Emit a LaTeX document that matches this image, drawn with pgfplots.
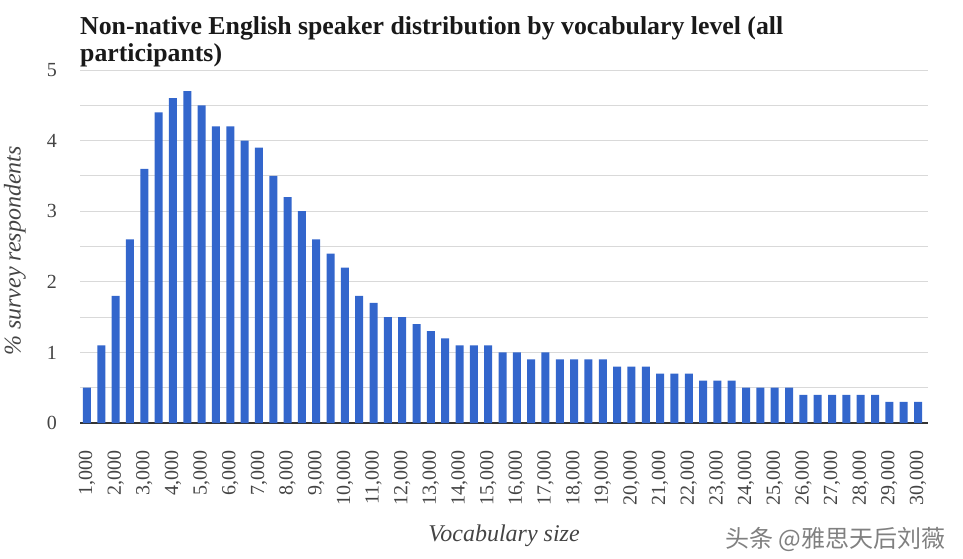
\documentclass[border=0pt]{standalone}
\usepackage{pgfplots}
\pgfplotsset{compat=1.18}
\usepackage{fontspec}
\setmainfont{Liberation Serif}
\newfontfamily\cjk{Noto Sans CJK SC}
\definecolor{barblue}{HTML}{3366CC}
\definecolor{gridgray}{HTML}{D9D9D9}
\definecolor{tickgray}{HTML}{444444}
\definecolor{axisgray}{HTML}{333333}
\begin{document}
\begin{tikzpicture}
\useasboundingbox (0pt,0pt) rectangle (963pt,558pt);
\begin{axis}[
  at={(80pt,135pt)}, anchor=south west,
  scale only axis, width=848pt, height=353pt,
  xmin=756, xmax=30349, ymin=0, ymax=5,
  axis x line*=bottom, axis y line*=left,
  x axis line style={-, draw=axisgray, line width=1.4pt},
  y axis line style={draw=none},
  major tick length=0pt, minor tick length=0pt,
  xtick={1000,2000,...,30000},
  ytick={0,1,2,3,4,5},
  minor ytick={0.5,1.5,2.5,3.5,4.5},
  ymajorgrids, yminorgrids,
  major grid style={draw=gridgray, line width=1pt},
  minor grid style={draw=gridgray, line width=1pt},
  scaled x ticks=false, scaled y ticks=false,
  /pgf/number format/.cd, 1000 sep={,}, assume math mode=true,
  /pgfplots/.cd,
  tick label style={font=\fontsize{20}{20}\selectfont, text=tickgray, inner sep=0pt},
  xticklabel style={rotate=90, anchor=east},
  xticklabel shift=27pt,
  yticklabel shift=23pt,
  xlabel={Vocabulary size},
  ylabel={\% survey respondents},
  label style={font=\itshape\fontsize{24}{24}\selectfont, text=tickgray},
  xlabel style={at={(axis description cs:0.5,0)}, anchor=center, yshift=-113pt},
  ylabel style={at={(axis description cs:-0.0767,0.487)}, anchor=center, rotate=0},
]
\addplot[ybar, bar width=8pt, fill=barblue, draw=none] coordinates {
(1000,0.5) (1500,1.1) (2000,1.8) (2500,2.6) (3000,3.6) (3500,4.4)
(4000,4.6) (4500,4.7) (5000,4.5) (5500,4.2) (6000,4.2) (6500,4.0)
(7000,3.9) (7500,3.5) (8000,3.2) (8500,3.0) (9000,2.6) (9500,2.4)
(10000,2.2) (10500,1.8) (11000,1.7) (11500,1.5) (12000,1.5) (12500,1.4)
(13000,1.3) (13500,1.2) (14000,1.1) (14500,1.1) (15000,1.1) (15500,1.0)
(16000,1.0) (16500,0.9) (17000,1.0) (17500,0.9) (18000,0.9) (18500,0.9)
(19000,0.9) (19500,0.8) (20000,0.8) (20500,0.8) (21000,0.7) (21500,0.7)
(22000,0.7) (22500,0.6) (23000,0.6) (23500,0.6) (24000,0.5) (24500,0.5)
(25000,0.5) (25500,0.5) (26000,0.4) (26500,0.4) (27000,0.4) (27500,0.4)
(28000,0.4) (28500,0.4) (29000,0.3) (29500,0.3) (30000,0.3)
};
\end{axis}
\node[anchor=base west, inner sep=0pt, font=\bfseries\fontsize{25.8}{25.8}\selectfont, text=black!90] at (80pt,523pt) {Non-native English speaker distribution by vocabulary level (all};
\node[anchor=base west, inner sep=0pt, font=\bfseries\fontsize{25.8}{25.8}\selectfont, text=black!90] at (80pt,496.3pt) {participants)};
\node[anchor=base west, inner sep=0pt, font=\cjk\fontsize{24}{24}\selectfont, text=gray] at (725pt,11pt) {头条 @雅思天后刘薇};
\end{tikzpicture}
\end{document}
